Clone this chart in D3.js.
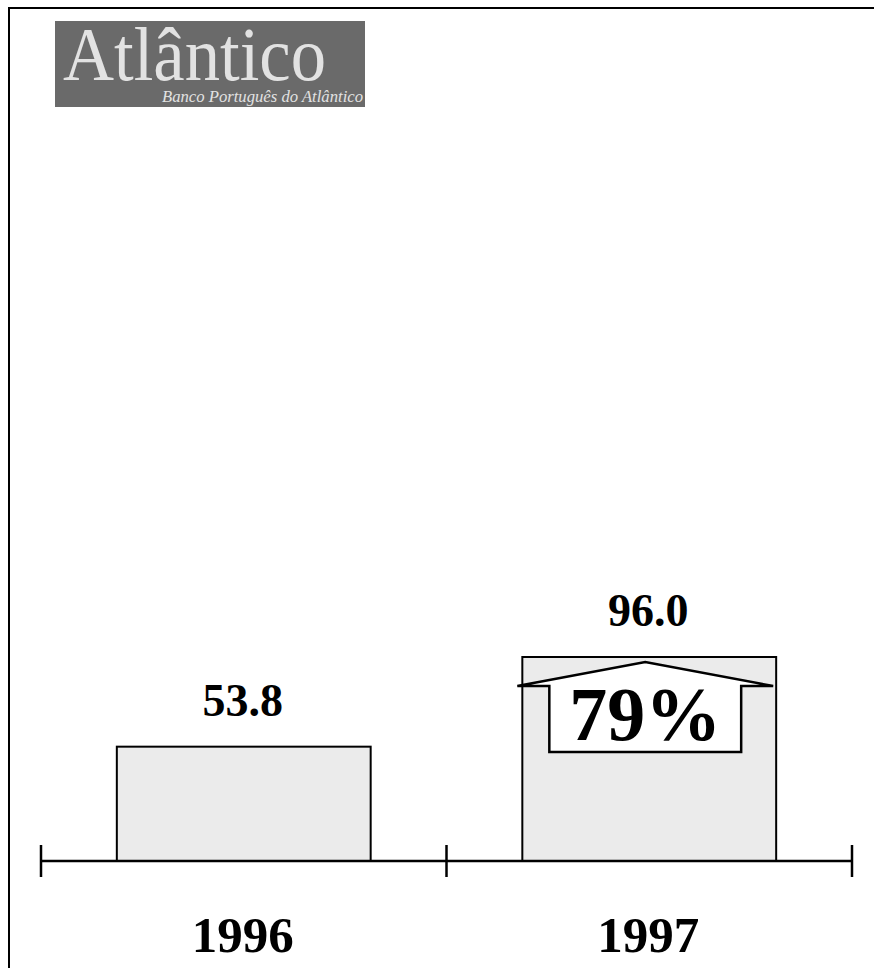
<!DOCTYPE html>
<html>
<head>
<meta charset="utf-8">
<script src="https://cdn.jsdelivr.net/npm/d3@7/dist/d3.min.js"></script>
<style>
html,body{margin:0;padding:0;background:#fff;}
svg{display:block;}
</style>
</head>
<body>
<script>
const categories = ["1996", "1997"];
const values = [53.8, 96.0];
const valueLabels = ["53.8", "96.0"];
const growthLabel = "79%";
const logoTitle = "Atlântico";
const logoSubtitle = "Banco Português do Atlântico";

const W = 874, H = 968;
const svg = d3.select("body").append("svg").attr("width", W).attr("height", H);
const serif = "'Liberation Serif','Times New Roman',Times,serif";

// frame
svg.append("line").attr("x1", 9).attr("x2", 9).attr("y1", 8).attr("y2", H).attr("stroke", "#000").attr("stroke-width", 2);
svg.append("line").attr("x1", 8).attr("x2", W).attr("y1", 8).attr("y2", 8).attr("stroke", "#000").attr("stroke-width", 2);

// logo
svg.append("rect").attr("x", 55).attr("y", 21).attr("width", 310).attr("height", 86).attr("fill", "#6a6a6a");
svg.append("text").attr("x", 63).attr("y", 80).attr("font-family", serif).attr("font-size", 76)
  .attr("fill", "#e2e2e2").attr("textLength", 263).attr("lengthAdjust", "spacingAndGlyphs").text(logoTitle);
svg.append("text").attr("x", 162).attr("y", 102).attr("font-family", serif).attr("font-style", "italic").attr("font-size", 16)
  .attr("fill", "#e2e2e2").attr("textLength", 201).attr("lengthAdjust", "spacingAndGlyphs").text(logoSubtitle);

// scales
const x = d3.scaleBand().domain(categories).range([41, 852]).padding(0);
const barFrac = 0.626;
const y = d3.scaleLinear().domain([0, 96]).range([861, 657]);

const bw = x.bandwidth() * barFrac;
const bx = d => x(d) + (x.bandwidth() - bw) / 2;

// bars
svg.selectAll("rect.bar").data(categories).enter().append("rect")
  .attr("class", "bar")
  .attr("x", d => bx(d))
  .attr("y", (d, i) => y(values[i]))
  .attr("width", bw)
  .attr("height", (d, i) => y(0) - y(values[i]))
  .attr("fill", "#ebebeb").attr("stroke", "#000").attr("stroke-width", 2);

// value labels
svg.selectAll("text.val").data(categories).enter().append("text")
  .attr("class", "val")
  .attr("x", d => x(d) + x.bandwidth() / 2 - 1)
  .attr("y", (d, i) => y(values[i]) - 31)
  .attr("text-anchor", "middle").attr("font-family", serif).attr("font-weight", "bold").attr("font-size", 46)
  .attr("fill", "#000").text((d, i) => valueLabels[i]);

// axis line + ticks
const ticks = [x.range()[0]].concat(categories.map(c => x(c) + x.bandwidth()));
svg.append("line").attr("x1", x.range()[0]).attr("x2", x.range()[1]).attr("y1", y(0)).attr("y2", y(0))
  .attr("stroke", "#000").attr("stroke-width", 2.5);
svg.selectAll("line.tick").data(ticks).enter().append("line").attr("class", "tick")
  .attr("x1", d => d).attr("x2", d => d).attr("y1", y(0) - 16).attr("y2", y(0) + 16)
  .attr("stroke", "#000").attr("stroke-width", 2.5);

// category labels
svg.selectAll("text.cat").data(categories).enter().append("text")
  .attr("class", "cat")
  .attr("x", d => x(d) + x.bandwidth() / 2 - 1)
  .attr("y", y(0) + 91)
  .attr("text-anchor", "middle").attr("font-family", serif).attr("font-weight", "bold").attr("font-size", 51)
  .attr("fill", "#000").text(d => d);

// growth arrow on second bar
const c2 = categories[1];
const L = bx(c2), R = bx(c2) + bw, T = y(values[1]);
const cx = (L + R) / 2 - 4;
const pts = [
  [L - 5, T + 29], [cx, T + 5], [R - 3, T + 29], [R - 35, T + 29],
  [R - 35, T + 95], [L + 27, T + 95], [L + 27, T + 29]
];
svg.append("polygon").attr("points", pts.map(p => p.join(",")).join(" "))
  .attr("fill", "#fff").attr("stroke", "#000").attr("stroke-width", 2.5).attr("stroke-linejoin", "miter");
svg.append("text").attr("x", cx).attr("y", T + 83).attr("text-anchor", "middle")
  .attr("font-family", serif).attr("font-weight", "bold").attr("font-size", 76).attr("fill", "#000")
  .text(growthLabel);
</script>
</body>
</html>
